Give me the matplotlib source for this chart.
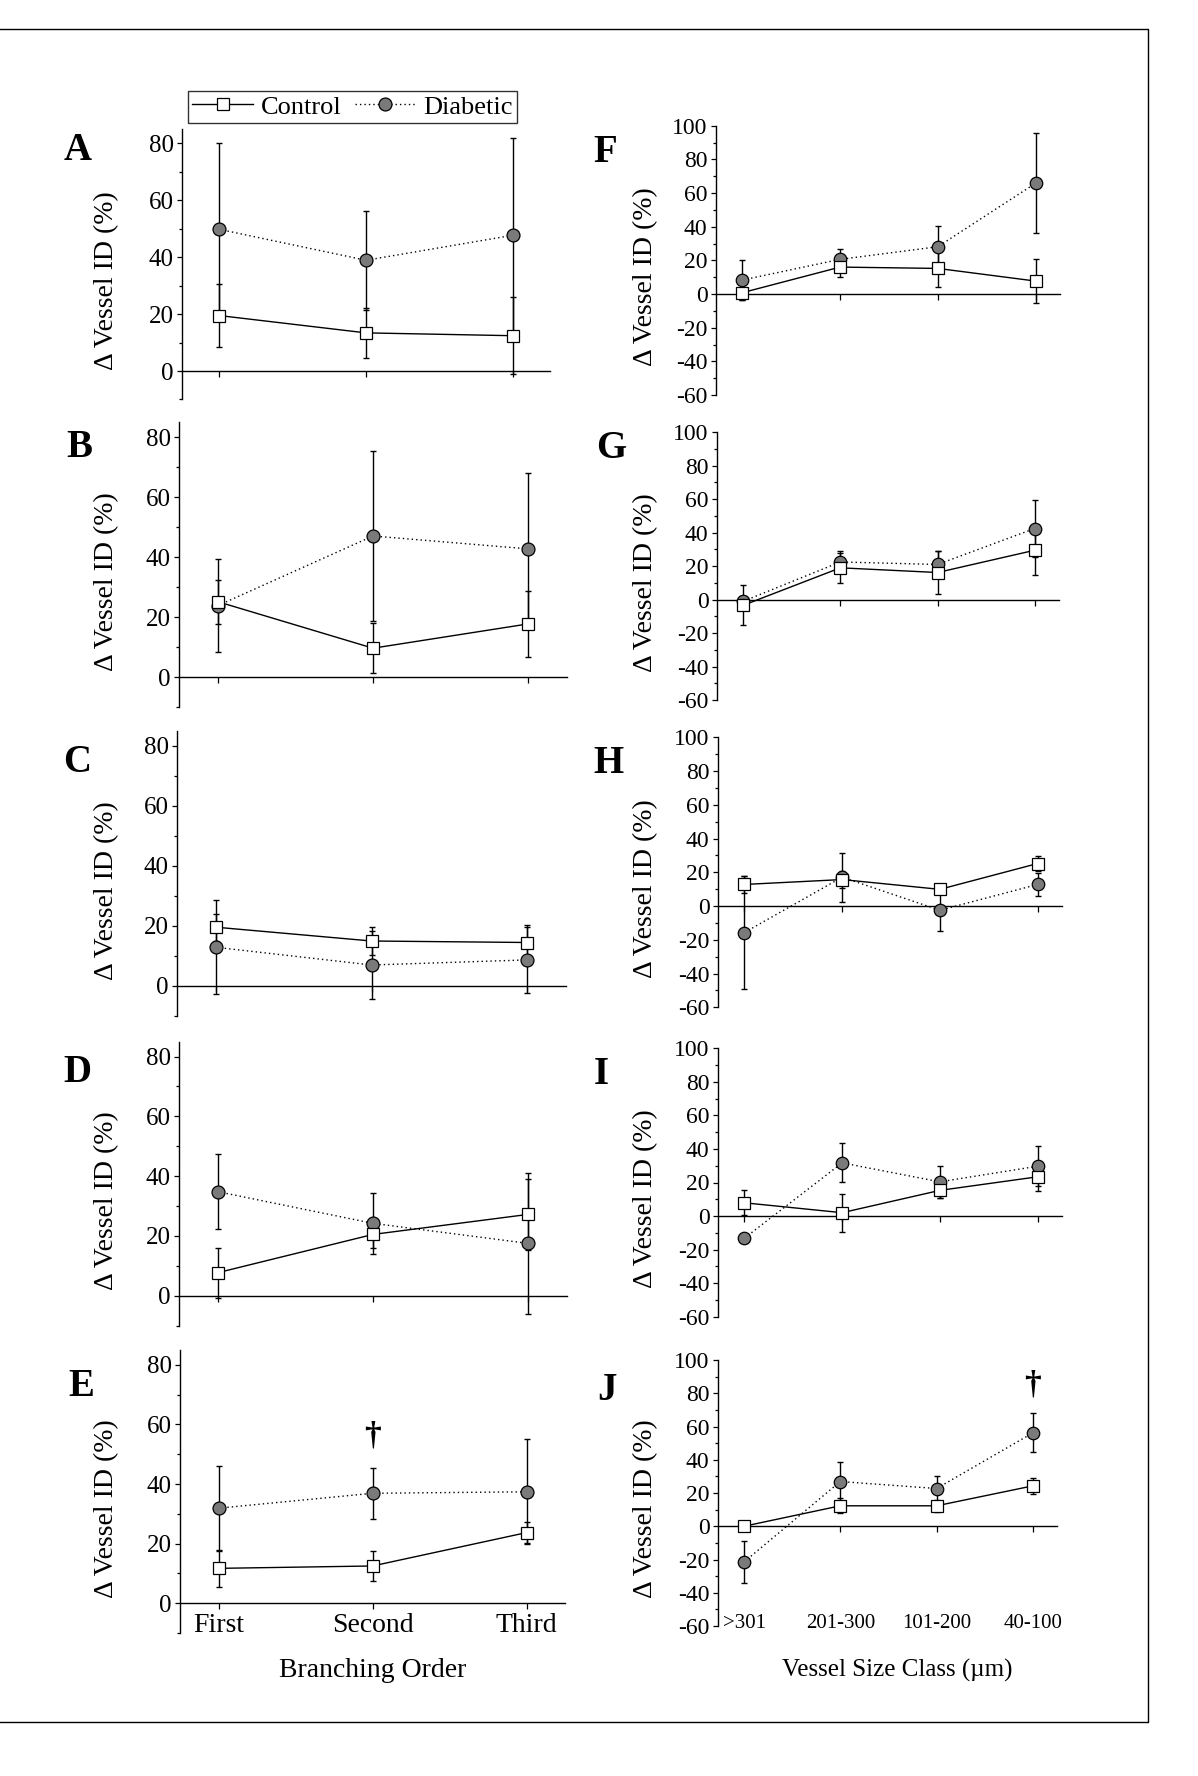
import numpy as np
import matplotlib
matplotlib.use('Agg')
import matplotlib.pyplot as plt
from matplotlib.lines import Line2D
from matplotlib.ticker import MultipleLocator

plt.rcParams['font.family'] = ['Liberation Serif', 'DejaVu Serif']
plt.rcParams['axes.unicode_minus'] = False

# category labels
orders = ['First', 'Second', 'Third']
sizes = ['>301', '201-300', '101-200', '40-100']

# mean change (%) and error
A_ctrl = [19.5, 13.4, 12.4];   A_ctrl_err = [11.0, 8.7, 13.5]
A_diab = [49.8, 38.9, 47.7];   A_diab_err = [30.4, 17.3, 34.0]
B_ctrl = [25.2, 9.7, 17.8];    B_ctrl_err = [7.4, 8.4, 11.0]
B_diab = [23.9, 47.1, 42.8];   B_diab_err = [15.4, 28.4, 25.2]
C_ctrl = [19.5, 14.9, 14.4];   C_ctrl_err = [4.5, 4.8, 6.0]
C_diab = [12.8, 6.9, 8.6];     C_diab_err = [15.7, 11.2, 11.1]
D_ctrl = [7.7, 20.5, 27.2];    D_ctrl_err = [8.4, 4.5, 12.0]
D_diab = [34.8, 24.2, 17.5];   D_diab_err = [12.6, 10.3, 23.7]
E_ctrl = [11.7, 12.5, 23.7];   E_ctrl_err = [6.3, 4.9, 3.4]
E_diab = [31.9, 36.9, 37.4];   E_diab_err = [14.3, 8.5, 17.6]

F_ctrl = [0.8, 16.0, 15.2, 7.7];     F_ctrl_err = [4.4, 6.0, 11.0, 13.2]
F_diab = [8.3, 20.6, 28.1, 65.8];    F_diab_err = [12.0, 6.1, 12.5, 29.8]
G_ctrl = [-3.4, 19.0, 16.2, 29.5];   G_ctrl_err = [12.0, 8.8, 12.6, 14.5]
G_diab = [-1.0, 22.5, 21.0, 42.5];   G_diab_err = [3.0, 6.6, 8.0, 17.0]
H_ctrl = [12.8, 15.7, 9.9, 25.2];    H_ctrl_err = [5.0, 5.0, 2.5, 4.3]
H_diab = [-15.7, 17.1, -2.5, 12.8];  H_diab_err = [33.5, 14.6, 12.0, 7.0]
I_ctrl = [7.9, 2.0, 15.3, 23.4];     I_ctrl_err = [7.5, 11.3, 4.8, 8.7]
I_diab = [-13.2, 31.7, 20.4, 29.7];  I_diab_err = [2.0, 11.6, 9.7, 11.9]
J_ctrl = [0.0, 12.3, 12.3, 24.3];    J_ctrl_err = [1.0, 4.5, 3.5, 5.0]
J_diab = [-21.5, 26.9, 22.7, 56.2];  J_diab_err = [12.5, 12.0, 7.6, 11.7]

W, H = 1198, 1776
fig = plt.figure(figsize=(W / 100, H / 100), dpi=100)

def px_box(l, r, t, b):
    return [l / W, 1 - b / H, (r - l) / W, (b - t) / H]

# panel: letter, box in pixels (left, right, top, bottom), data, letter position
left_panels = [
    ('A', (182, 550, 129, 399.5), A_ctrl, A_ctrl_err, A_diab, A_diab_err, (78, 150)),
    ('B', (179, 567, 422.3, 707.3), B_ctrl, B_ctrl_err, B_diab, B_diab_err, (79, 447)),
    ('C', (177, 566, 730.7, 1015.7), C_ctrl, C_ctrl_err, C_diab, C_diab_err, (77, 762)),
    ('D', (179, 567, 1041.6, 1325.6), D_ctrl, D_ctrl_err, D_diab, D_diab_err, (77, 1073)),
    ('E', (180, 565, 1350, 1633), E_ctrl, E_ctrl_err, E_diab, E_diab_err, (81, 1386)),
]
right_panels = [
    ('F', (716, 1060, 125.7, 395), F_ctrl, F_ctrl_err, F_diab, F_diab_err, (605, 152)),
    ('G', (717, 1059, 432.3, 700), G_ctrl, G_ctrl_err, G_diab, G_diab_err, (611, 449)),
    ('H', (718, 1062, 737.3, 1007.3), H_ctrl, H_ctrl_err, H_diab, H_diab_err, (608, 763)),
    ('I', (718, 1062, 1048.3, 1316.7), I_ctrl, I_ctrl_err, I_diab, I_diab_err, (601, 1075)),
    ('J', (718, 1057, 1360, 1626), J_ctrl, J_ctrl_err, J_diab, J_diab_err, (607, 1391)),
]

gray = '#7a7a7a'
dots = (0, (1, 2.2))

def draw_panel(p, right):
    letter, box, c, ce, d, de, lpos = p
    ax = fig.add_axes(px_box(*box))
    x = np.arange(1, len(c) + 1)
    ms = 9.0 if right else 9.3
    ax.errorbar(x, d, yerr=de, fmt='none', ecolor='k', elinewidth=1, capsize=2.4, capthick=1, zorder=2)
    ax.errorbar(x, c, yerr=ce, fmt='none', ecolor='k', elinewidth=1, capsize=2.4, capthick=1, zorder=2)
    ax.plot(x, d, linestyle=dots, color='k', linewidth=1, marker='o', markersize=ms,
            markerfacecolor=gray, markeredgecolor='k', markeredgewidth=0.9, zorder=3)
    ax.plot(x, c, linestyle='-', color='k', linewidth=1, marker='s', markersize=ms,
            markerfacecolor='white', markeredgecolor='k', markeredgewidth=0.9, zorder=4)

    if right:
        ax.set_xlim(0.73, 4.25)
        ax.set_ylim(-60, 100)
        ax.yaxis.set_major_locator(MultipleLocator(20))
        ax.yaxis.set_minor_locator(MultipleLocator(10))
        yfs = 17
    else:
        ax.set_xlim(0.75, 3.25)
        ax.set_ylim(-10, 85)
        ax.set_yticks([0, 20, 40, 60, 80])
        ax.set_yticks([-10, 10, 30, 50, 70], minor=True)
        yfs = 18

    ax.spines['top'].set_visible(False)
    ax.spines['right'].set_visible(False)
    ax.spines['bottom'].set_position(('data', 0))
    for s in ['left', 'bottom']:
        ax.spines[s].set_linewidth(1.0)

    ax.set_xticks(x)
    ax.tick_params(axis='y', which='major', direction='out', length=3.6, width=0.9, pad=2.5, labelsize=yfs)
    ax.tick_params(axis='y', which='minor', direction='out', length=1.9, width=0.9)
    ax.tick_params(axis='x', which='major', direction='out', length=4.2, width=0.9)

    l, r, t, b = box
    if letter == 'E':
        ax.set_xticklabels(orders)
        ax.tick_params(axis='x', labelsize=20, pad=3)
        ax.text(2, 56, '\u2020', ha='center', va='center', fontsize=24, fontweight='bold')
    elif letter == 'J':
        ax.set_xticklabels(sizes)
        ax.tick_params(axis='x', labelsize=15, pad=59)
        ax.text(4, 85, '\u2020', ha='center', va='center', fontsize=24, fontweight='bold')
    else:
        ax.tick_params(axis='x', labelbottom=False)

    ax.set_ylabel('\u0394 Vessel ID (%)', fontsize=20)
    lab_x = 658 if right else 119
    ax.yaxis.set_label_coords((lab_x - l) / (r - l), 0.44)

    fig.text(lpos[0] / W, 1 - lpos[1] / H, letter, fontsize=28, fontweight='bold',
             ha='center', va='center')
    return ax

for p in left_panels:
    draw_panel(p, False)
for p in right_panels:
    draw_panel(p, True)

# axis titles
fig.text(372.7 / W, 1 - 1670 / H, 'Branching Order', fontsize=20, ha='center', va='center')
fig.text(897 / W, 1 - 1670 / H, 'Vessel Size Class (\u00b5m)', fontsize=18, ha='center', va='center')

# legend
h_ctrl = Line2D([], [], color='k', linewidth=1, marker='s', markersize=9.3,
                markerfacecolor='white', markeredgecolor='k', markeredgewidth=0.9)
h_diab = Line2D([], [], color='k', linewidth=1, linestyle=dots, marker='o', markersize=9.3,
                markerfacecolor=gray, markeredgecolor='k', markeredgewidth=0.9)
leg = fig.legend([h_ctrl, h_diab], ['Control', 'Diabetic'], loc='center',
                 bbox_to_anchor=(352.5 / W, 1 - 107 / H), ncol=2, fontsize=19,
                 handlelength=2.3, handletextpad=0.3, columnspacing=0.5,
                 borderpad=0.15, frameon=True, fancybox=False, borderaxespad=0)
leg.get_frame().set_edgecolor('k')
leg.get_frame().set_linewidth(1.0)

# outer frame (top, right, bottom)
fig.add_artist(Line2D([0, 1148 / W, 1148 / W, 0], [1 - 29 / H, 1 - 29 / H, 1 - 1722 / H, 1 - 1722 / H],
                      color='k', linewidth=1.0, transform=fig.transFigure))

fig.savefig('out.png', dpi=100)
